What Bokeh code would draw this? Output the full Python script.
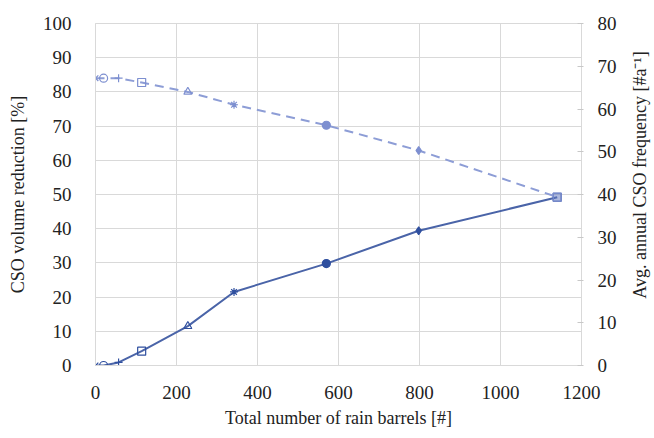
import math
from bokeh.plotting import figure
from bokeh.layouts import row
from bokeh.models import Range1d, LinearAxis, ColumnDataSource, FixedTicker
from bokeh.embed import file_html
from bokeh.resources import INLINE

barrels = [0, 20, 57, 114, 228, 342, 570, 798, 1140]
volume_reduction = [0.0, 0.0, 0.9, 4.2, 11.5, 21.5, 29.8, 39.4, 49.2]
cso_frequency = [67.2, 67.2, 67.2, 66.2, 64.0, 61.0, 56.2, 50.3, 39.4]
markers = ["x", "circle", "cross", "square", "triangle", "asterisk", "circle", "diamond", "square"]
fills = [0, 0, 0, 0, 0, 0, 1, 1, 0.3]
right_title = "Avg. annual CSO frequency [#a\u207b\u00b9]"

FONT = "Liberation Serif"
SOLID = "#4a64a8"
DASH = "#8d9dd6"
GRID = "#d9d9d9"

p = figure(width=624, height=438, output_backend="svg", toolbar_location=None,
           x_range=Range1d(0, 1200), y_range=Range1d(0, 100),
           min_border_left=95, min_border_right=43, min_border_top=23, min_border_bottom=73)
p.extra_y_ranges = {"freq": Range1d(0, 80)}

src1 = ColumnDataSource(dict(x=barrels, y=volume_reduction, m=markers, fa=fills))
src2 = ColumnDataSource(dict(x=barrels, y=cso_frequency, m=markers, fa=fills))

p.line("x", "y", source=src1, line_color=SOLID, line_width=2)
p.scatter("x", "y", source=src1, marker="m", size=8, line_color="#2f4f9f",
          fill_color="#2f4f9f", fill_alpha="fa", line_width=1.2)
p.line("x", "y", source=src2, line_color=DASH, line_width=2, line_dash="9 6", y_range_name="freq")
p.scatter("x", "y", source=src2, marker="m", size=8, line_color="#7d8fd0",
          fill_color="#7d8fd0", fill_alpha="fa", line_width=1.2, y_range_name="freq")

right = LinearAxis(y_range_name="freq")
p.add_layout(right, "right")

p.xaxis.axis_label = "Total number of rain barrels [#]"
p.yaxis[0].axis_label = "CSO volume reduction [%]"

p.xaxis.ticker = FixedTicker(ticks=[0, 200, 400, 600, 800, 1000, 1200])
p.yaxis[0].ticker = FixedTicker(ticks=list(range(0, 101, 10)))
right.ticker = FixedTicker(ticks=list(range(0, 81, 10)))

for ax in [p.xaxis[0], p.yaxis[0], right]:
    ax.major_label_text_font = FONT
    ax.major_label_text_font_size = "19px"
    ax.major_label_text_color = "#222222"
    ax.axis_label_text_font = FONT
    ax.axis_label_text_font_size = "18px"
    ax.axis_label_text_font_style = "normal"
    ax.axis_label_text_color = "#222222"
    ax.axis_line_color = GRID
    ax.minor_tick_line_color = None
    ax.major_tick_line_color = None

right.major_tick_line_color = "#c8c8c8"
right.major_tick_in = 4
right.major_tick_out = 2
right.major_label_standoff = 14
p.yaxis[0].major_label_standoff = 18
p.xaxis.major_label_standoff = 14
p.yaxis[0].axis_label_standoff = 12
p.xaxis.axis_label_standoff = 6

p.xgrid.grid_line_color = GRID
p.ygrid.grid_line_color = GRID
p.xgrid.ticker = p.xaxis[0].ticker
p.ygrid.ticker = p.yaxis[0].ticker
p.outline_line_color = GRID

# narrow side panel carrying the right-axis title, reading bottom to top
t = figure(width=30, height=438, output_backend="svg", toolbar_location=None,
           x_range=Range1d(0, 30), y_range=Range1d(0, 438),
           min_border=0, outline_line_color=None)
t.axis.visible = False
t.grid.visible = False
t.text(x=[15], y=[244], text=[right_title], angle=math.pi / 2,
       text_align="center", text_baseline="middle",
       text_font={"value": FONT}, text_font_size="18px", text_color="#222222")

layout = row(p, t, spacing=0)
open("out.html", "w").write(file_html(layout, INLINE))
